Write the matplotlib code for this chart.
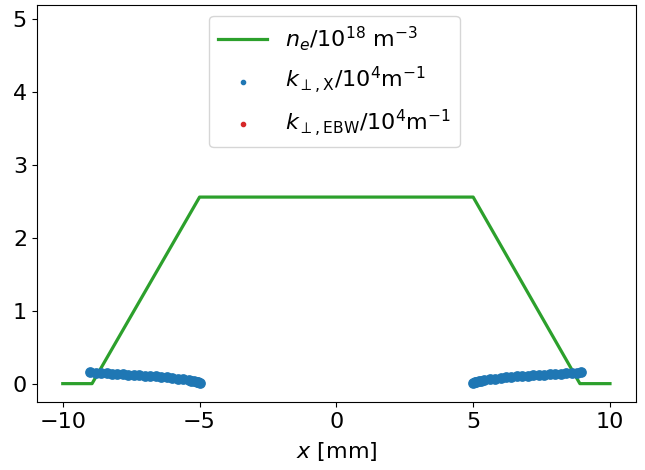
import matplotlib
matplotlib.use("Agg")
import matplotlib.pyplot as plt

# density profile n_e / 1e18 m^-3
ne_x = [-10.0, -8.93, -5.0, 5.0, 8.9, 10.0]
ne_val = [0.0, 0.0, 2.56, 2.56, 0.0, 0.0]

# k_perp of the X mode / 1e4 m^-1
kx_left_x = [-9.0, -8.8, -8.6, -8.4, -8.2, -8.0, -7.8, -7.6, -7.4, -7.2, -7.0,
             -6.8, -6.6, -6.4, -6.2, -6.0, -5.8, -5.6, -5.4, -5.3, -5.2, -5.1,
             -5.05, -5.0]
kx_left = [0.155, 0.151, 0.147, 0.143, 0.139, 0.134, 0.130, 0.125, 0.120, 0.115,
           0.110, 0.104, 0.098, 0.092, 0.085, 0.078, 0.069, 0.060, 0.049, 0.042,
           0.035, 0.025, 0.017, 0.005]
kx_right_x = [5.0, 5.05, 5.1, 5.2, 5.3, 5.4, 5.6, 5.8, 6.0, 6.2, 6.4, 6.6, 6.8,
              7.0, 7.2, 7.4, 7.6, 7.8, 8.0, 8.2, 8.4, 8.6, 8.8, 8.95]
kx_right = [0.005, 0.017, 0.025, 0.035, 0.042, 0.049, 0.060, 0.069, 0.078, 0.085,
            0.092, 0.098, 0.104, 0.110, 0.115, 0.120, 0.125, 0.130, 0.134, 0.139,
            0.143, 0.147, 0.151, 0.155]

# EBW branch: nothing visible in the window
kebw_x = []
kebw = []

plt.rcParams["font.size"] = 16

fig = plt.figure(figsize=(6.45, 4.70), dpi=100)
ax = fig.add_axes([0.057, 0.145, 0.929, 0.845])

ax.plot(ne_x, ne_val, color="C2", lw=2.3, label=r"$n_e/10^{18}$ m$^{-3}$")
ax.scatter(kx_left_x + kx_right_x, kx_left + kx_right, s=45, color="C0",
           label=r"$k_{\perp,\mathrm{X}}/10^4$m$^{-1}$", zorder=3)
ax.scatter(kebw_x, kebw, s=45, color="C3",
           label=r"$k_{\perp,\mathrm{EBW}}/10^4$m$^{-1}$")

ax.set_xlim(-10.95, 10.95)
ax.set_ylim(-0.25, 5.2)
ax.set_xticks([-10, -5, 0, 5, 10])
ax.set_yticks([0, 1, 2, 3, 4, 5])
ax.set_xlabel(r"$x$ [mm]", labelpad=6)

ax.legend(loc="upper center", bbox_to_anchor=(0.497, 1.0), markerscale=0.45,
          fontsize=16, handlelength=2.2, borderaxespad=0.5)

fig.savefig("out.png", dpi=100)
